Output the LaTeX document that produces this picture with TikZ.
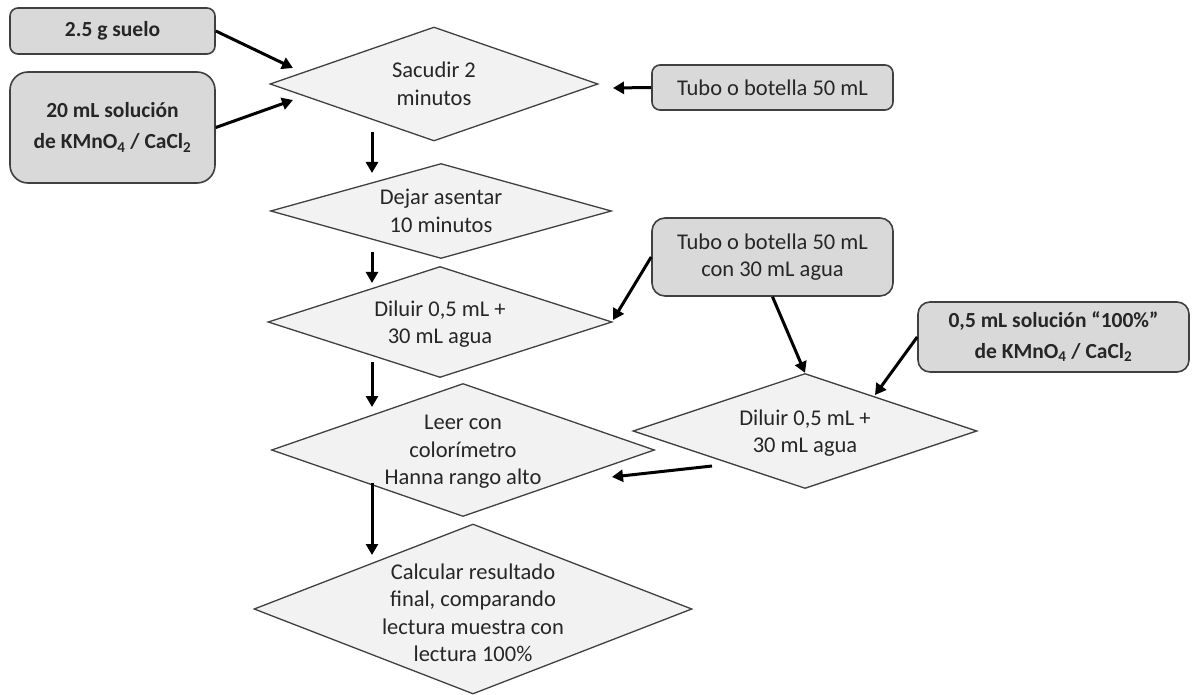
\documentclass[tikz,border=0pt]{standalone}
\usepackage{fontspec}
\setmainfont{Carlito}
\usetikzlibrary{shapes.geometric,arrows.meta}
\definecolor{boxfill}{HTML}{D9D9D9}
\definecolor{dfill}{HTML}{F2F2F2}
\definecolor{edgec}{HTML}{404040}
\definecolor{txtc}{HTML}{262626}
\begin{document}
\begin{tikzpicture}[x=1pt,y=-1pt,
  every node/.style={font=\fontsize{22.5}{27.5}\selectfont, text=txtc},
  dia/.style={draw=edgec, line width=1.3pt, fill=dfill, diamond, inner sep=0pt},
  dtext/.style={align=center, inner sep=0pt},
  inbox/.style={draw=edgec, line width=1.6pt, fill=boxfill, rectangle, align=center, inner sep=2pt},
  boldbox/.style={inbox, font=\bfseries\fontsize{21.5}{31}\selectfont},
  arr/.style={line width=3pt, draw=black, -{Triangle[length=11pt,width=12pt]}}
]
\useasboundingbox (0,0) rectangle (1192,695);

% diamonds
\node[dia, minimum width=328pt, minimum height=114pt] (sac) at (434,84) {};
\node[dtext] (tsac) at (sac.center) {Sacudir 2\\minutos};
\node[dia, minimum width=341pt, minimum height=95pt] (dej) at (441,211) {};
\node[dtext] (tdej) at (dej.center) {Dejar asentar\\10 minutos};
\node[dia, minimum width=344pt, minimum height=111pt] (dil1) at (440,322) {};
\node[dtext] (tdil1) at ([yshift=-2pt]dil1.center) {Diluir 0,5 mL +\\30 mL agua};
\node[dia, minimum width=383pt, minimum height=133pt] (leer) at (463,450) {};
\node[dtext] (tleer) at ([yshift=-2pt]leer.center) {Leer con\\colorímetro\\Hanna rango alto};
\node[dia, minimum width=438pt, minimum height=170pt] (calc) at (473,609) {};
\node[dtext] (tcalc) at ([yshift=-4pt]calc.center) {Calcular resultado\\final, comparando\\lectura muestra con\\lectura 100\%};
\node[dia, minimum width=344pt, minimum height=115pt] (dil2) at (805,431) {};
\node[dtext] (tdil2) at ([yshift=-2pt]dil2.center) {Diluir 0,5 mL +\\30 mL agua};

% boxes
\node[boldbox, rounded corners=8pt, minimum width=205pt, minimum height=46pt] (b1) at (112.5,31) {2.5 g suelo};
\node[boldbox, rounded corners=18pt, minimum width=205pt, minimum height=111pt] (b2) at (112.5,127.5) {20 mL solución\\de KMnO\textsubscript{4} / CaCl\textsubscript{2}};
\node[inbox, rounded corners=8pt, minimum width=241pt, minimum height=45pt] (t50) at (772.5,87.5) {Tubo o botella 50 mL};
\node[inbox, rounded corners=13pt, minimum width=241pt, minimum height=78pt] (t30) at (772.5,257) {Tubo o botella 50 mL\\con 30 mL agua};
\node[boldbox, rounded corners=12pt, minimum width=271pt, minimum height=70pt] (b05) at (1053.5,337) {0,5 mL solución “100\%”\\de KMnO\textsubscript{4} / CaCl\textsubscript{2}};

% free arrow ends
\coordinate (a1) at (293,68);
\coordinate (a2) at (293,100);
\coordinate (a3) at (613,88);
\coordinate (v1s) at (372,132); \coordinate (v1e) at (372,173);
\coordinate (v2s) at (372,252); \coordinate (v2e) at (372,283);
\coordinate (v3s) at (372,362); \coordinate (v3e) at (372,407);
\coordinate (v4s) at (372,483); \coordinate (v4e) at (372,555);
\coordinate (a4) at (613,320);
\coordinate (a5) at (875,395);
\coordinate (a6s) at (712,466); \coordinate (a6e) at (612,477);

\draw[arr] (b1.east) -- (a1);
\draw[arr] (b2.east) -- (a2);
\draw[arr] (t50.west) -- (a3);
\draw[arr] (v1s) -- (v1e);
\draw[arr] (v2s) -- (v2e);
\draw[arr] (v3s) -- (v3e);
\draw[arr] (v4s) -- (v4e);
\draw[arr] (t30.west) -- (a4);
\draw[arr] (t30.south) -- (dil2.north);
\draw[arr] (b05.west) -- (a5);
\draw[arr] (a6s) -- (a6e);
\end{tikzpicture}
\end{document}
